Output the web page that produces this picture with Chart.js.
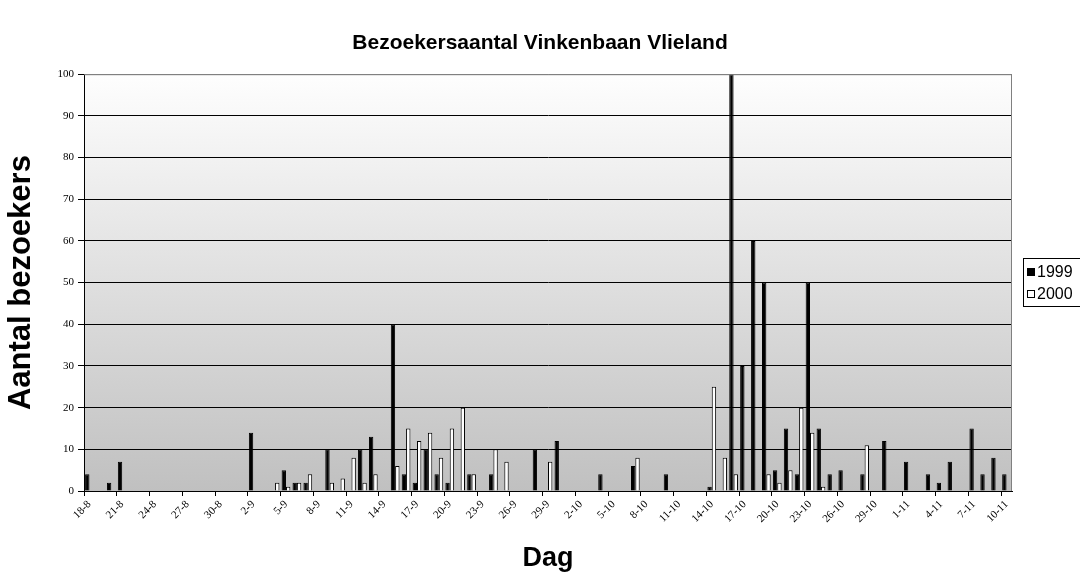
<!DOCTYPE html>
<html>
<head>
<meta charset="utf-8">
<title>Bezoekersaantal Vinkenbaan Vlieland</title>
<script src="https://cdn.jsdelivr.net/npm/chart.js@4.4.0/dist/chart.umd.min.js"></script>
<style>
  html, body { margin: 0; padding: 0; background: #fff; }
  #wrap { width: 1080px; height: 575px; }
</style>
</head>
<body>
<div id="wrap"><canvas id="chart-vinkenbaan" width="1080" height="575"></canvas></div>
<script>
// dagen van 18 augustus t/m 10 november
const dagen = [
    '18-8','19-8','20-8','21-8','22-8','23-8','24-8','25-8','26-8','27-8','28-8','29-8','30-8','31-8',
    '1-9','2-9','3-9','4-9','5-9','6-9','7-9','8-9','9-9','10-9','11-9','12-9','13-9','14-9','15-9',
    '16-9','17-9','18-9','19-9','20-9','21-9','22-9','23-9','24-9','25-9','26-9','27-9','28-9','29-9','30-9',
    '1-10','2-10','3-10','4-10','5-10','6-10','7-10','8-10','9-10','10-10','11-10','12-10','13-10','14-10',
    '15-10','16-10','17-10','18-10','19-10','20-10','21-10','22-10','23-10','24-10','25-10','26-10','27-10',
    '28-10','29-10','30-10','31-10',
    '1-11','2-11','3-11','4-11','5-11','6-11','7-11','8-11','9-11','10-11'
];

const bezoekers1999 = [
    4, 0, 2, 7, 0, 0, 0, 0, 0, 0,
    0, 0, 0, 0, 0, 14, 0, 0, 5, 2,
    2, 0, 10, 0, 0, 10, 13, 0, 40, 4,
    2, 10, 4, 2, 0, 4, 0, 4, 0, 0,
    0, 10, 0, 12, 0, 0, 0, 4, 0, 0,
    6, 0, 0, 4, 0, 0, 0, 1, 0, 100,
    30, 60, 50, 5, 15, 4, 50, 15, 4, 5,
    0, 4, 0, 12, 0, 7, 0, 4, 2, 7,
    0, 15, 4, 8, 4
];

const bezoekers2000 = [
    0, 0, 0, 0, 0, 0, 0, 0, 0, 0,
    0, 0, 0, 0, 0, 0, 0, 2, 1, 2,
    4, 0, 2, 3, 8, 2, 4, 0, 6, 15,
    12, 14, 8, 15, 20, 4, 0, 10, 7, 0,
    0, 0, 7, 0, 0, 0, 0, 0, 0, 0,
    8, 0, 0, 0, 0, 0, 0, 25, 8, 4,
    0, 0, 4, 2, 5, 20, 14, 1, 0, 0,
    0, 11, 0, 0, 0, 0, 0, 0, 0, 0,
    0, 0, 0, 0, 0
];

const yTicks = [0, 10, 20, 30, 40, 50, 60, 70, 80, 90, 100];

const sans = "'Liberation Sans', Arial, sans-serif";
const serif = "'Liberation Serif', 'Times New Roman', serif";

// grijs verloop achter het plotgebied + rand rechts/boven
const plotAchtergrond = {
    id: 'plotAchtergrond',
    beforeDraw(chart) {
        const { ctx, chartArea: a } = chart;
        const g = ctx.createLinearGradient(0, a.top, 0, a.bottom);
        g.addColorStop(0, '#fefefe');
        g.addColorStop(1, '#c0c0c0');
        ctx.save();
        ctx.fillStyle = g;
        ctx.fillRect(a.left, a.top, a.right - a.left, a.bottom - a.top);
        ctx.restore();
    },
    afterDraw(chart) {
        const { ctx, chartArea: a } = chart;
        ctx.save();
        ctx.strokeStyle = '#808080';
        ctx.lineWidth = 1;
        ctx.beginPath();
        ctx.moveTo(a.left, a.top + 0.5);
        ctx.lineTo(a.right - 0.5, a.top + 0.5);
        ctx.lineTo(a.right - 0.5, a.bottom);
        ctx.stroke();
        ctx.restore();
    }
};

// legenda met kader rechts, zoals in Excel
const kaderLegenda = {
    id: 'kaderLegenda',
    afterDraw(chart) {
        const ctx = chart.ctx;
        const x = 1023.5, y = 258.5;
        ctx.save();
        ctx.strokeStyle = '#000';
        ctx.lineWidth = 1;
        ctx.fillStyle = '#fff';
        ctx.fillRect(x, y, 80, 48);
        ctx.strokeRect(x, y, 80, 48);
        ctx.font = '16px ' + sans;
        ctx.textBaseline = 'middle';
        chart.data.datasets.forEach(function(ds, i) {
            const cy = 272 + i * 22;
            ctx.fillStyle = ds.backgroundColor;
            ctx.fillRect(1027, cy - 4, 8, 8);
            ctx.strokeRect(1027.5, cy - 3.5, 7, 7);
            ctx.fillStyle = '#000';
            ctx.fillText(ds.label, 1037, cy + 1);
        });
        ctx.restore();
    }
};

const ctx = document.getElementById('chart-vinkenbaan').getContext('2d');
new Chart(ctx, {
    type: 'bar',
    data: {
        labels: dagen,
        datasets: [{
            label: '1999',
            data: bezoekers1999,
            backgroundColor: '#000000',
            borderColor: '#000000',
            borderWidth: 1,
            categoryPercentage: 0.8,
            barPercentage: 1.0
        }, {
            label: '2000',
            data: bezoekers2000,
            backgroundColor: '#ffffff',
            borderColor: '#000000',
            borderWidth: 1,
            categoryPercentage: 0.8,
            barPercentage: 1.0
        }]
    },
    options: {
        responsive: false,
        animation: false,
        layout: { padding: 0 },
        plugins: {
            legend: { display: false },
            tooltip: { enabled: false },
            title: {
                display: true,
                text: 'Bezoekersaantal Vinkenbaan Vlieland',
                color: '#000',
                font: { family: sans, size: 21, weight: 'bold' },
                padding: { top: 31, bottom: 18 }
            }
        },
        scales: {
            x: {
                afterFit: function(scale) { scale.height = 84; },
                border: { color: '#000', width: 1 },
                grid: {
                    offset: true,
                    drawOnChartArea: false,
                    tickLength: 5,
                    tickColor: function(c) { return c.index % 3 === 0 ? '#000' : 'rgba(0,0,0,0)'; }
                },
                ticks: {
                    autoSkip: false,
                    maxRotation: 45,
                    minRotation: 45,
                    padding: 2,
                    color: '#000',
                    font: { family: serif, size: 11 },
                    callback: function(val, i) { return i % 3 === 0 ? dagen[i] : ''; }
                },
                title: {
                    display: true,
                    text: 'Dag',
                    color: '#000',
                    font: { family: sans, size: 27, weight: 'bold' },
                    padding: 0
                }
            },
            y: {
                min: 0,
                max: 100,
                afterFit: function(scale) { scale.width = 84; },
                afterBuildTicks: function(scale) { scale.ticks = yTicks.map(function(v) { return { value: v }; }); },
                border: { color: '#000', width: 1 },
                grid: {
                    color: function(c) { return c.tick && c.tick.value === 100 ? '#808080' : '#000'; },
                    tickColor: '#000',
                    tickLength: 6
                },
                ticks: {
                    padding: 4,
                    color: '#000',
                    font: { family: serif, size: 11 }
                },
                title: {
                    display: true,
                    text: 'Aantal bezoekers',
                    color: '#000',
                    font: { family: sans, size: 31, weight: 'bold' },
                    padding: { top: 3, bottom: 0 }
                }
            },
            // lege as rechts: ruimte voor de legenda
            legendaRuimte: {
                type: 'linear',
                position: 'right',
                afterFit: function(scale) { scale.width = 68; },
                grid: { display: false },
                border: { display: false },
                ticks: { display: false }
            }
        }
    },
    plugins: [plotAchtergrond, kaderLegenda]
});
</script>
</body>
</html>
